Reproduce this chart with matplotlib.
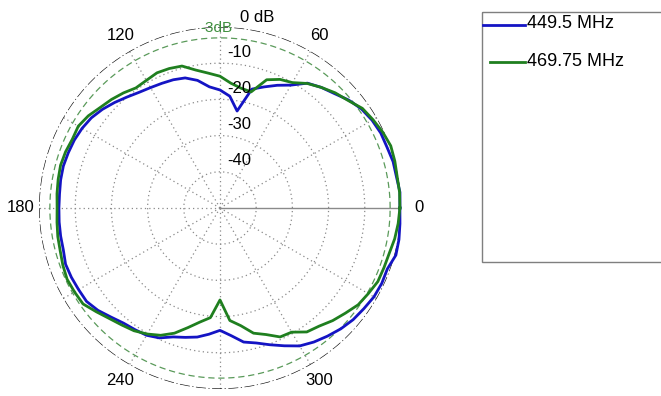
import numpy as np
import matplotlib

matplotlib.use("Agg")
import matplotlib.pyplot as plt
from matplotlib.patches import Rectangle
from matplotlib.transforms import offset_copy

# measured gain pattern (dB, normalised), every 5 degrees starting at 0
angles_deg = np.arange(0, 360, 5)
gain_449 = [
    -0.3, -0.1, -0.5, -0.5, -0.9, -1.0, -1.5, -2.3, -3.6, -5.3,
    -6.5, -7.9, -10.8, -12.6, -14.4, -16.0, -22.8, -19.0, -17.4, -16.4,
    -14.2, -12.8, -12.3, -12.0, -11.6, -11.0, -10.0, -8.8, -7.6, -6.6,
    -6.0, -5.6, -5.4, -5.2, -5.3, -5.5, -5.5, -5.4, -5.3, -5.2,
    -4.6, -4.7, -4.9, -5.0, -6.0, -7.4, -8.5, -9.0, -9.4, -10.4,
    -12.1, -13.0, -13.8, -15.0, -16.2, -14.6, -12.4, -11.4, -9.8, -8.0,
    -6.0, -4.8, -3.8, -2.8, -2.0, -1.5, -0.9, -0.7, -0.8, 0.3,
    0.2, -0.1,
]
gain_469 = [
    -0.3, -0.2, -0.3, 0.0, 0.2, -0.4, -1.2, -2.0, -3.8, -5.0,
    -6.5, -8.0, -10.0, -10.8, -12.3, -16.8, -16.4, -15.4, -13.6, -12.6,
    -11.3, -9.4, -9.0, -8.8, -9.3, -9.5, -8.5, -7.6, -6.8, -5.6,
    -4.8, -5.0, -4.6, -4.4, -4.6, -4.8, -5.0, -4.8, -4.5, -4.3,
    -3.8, -3.4, -3.6, -3.8, -5.4, -6.8, -7.8, -8.6, -9.8, -11.2,
    -13.2, -15.8, -18.0, -19.6, -24.6, -18.8, -17.0, -14.2, -12.8, -10.7,
    -10.4, -8.2, -7.4, -6.0, -4.8, -3.4, -2.7, -1.9, -1.8, -1.6,
    -1.0, -0.6,
]
series_labels = ["449.5 MHz", "469.75 MHz"]
series_colors = ["#1414c4", "#1f7f1f"]

r_min, r_max = -50, 0
ring_values = [-10, -20, -30, -40]
spoke_angles = np.arange(30, 360, 30)
angle_labels = [0, 60, 120, 180, 240, 300]

W, H = 661, 396
fig = plt.figure(figsize=(W / 100, H / 100), dpi=100)
ax = fig.add_axes([39 / W, 7 / H, 362 / W, 362 / H], projection="polar")
ax.set_ylim(r_min, r_max)
ax.grid(False)
ax.set_xticks([])
ax.set_yticks([])
ax.spines["polar"].set_visible(False)
ax.patch.set_visible(False)

full = np.linspace(0, 2 * np.pi, 721)
grid_c = "#8a8a8a"
for v in ring_values:
    ax.plot(full, np.full_like(full, v), color=grid_c, lw=0.9, ls=(0, (1, 2.5)))
for a in spoke_angles:
    t = np.deg2rad(a)
    ax.plot([t, t], [r_min, r_max], color=grid_c, lw=0.9, ls=(0, (1, 2.5)))
ax.plot([0, 0], [r_min, r_max], color="#8a8a8a", lw=1.0)
ax.plot(full, np.full_like(full, r_max), color="#111111", lw=0.9, ls=(0, (8, 2, 1, 2)))
ax.plot(full, np.full_like(full, r_max - 3), color="#5a9a5a", lw=0.9, ls=(0, (5, 3)))

th = np.deg2rad(np.r_[angles_deg, 360])
for vals, col, lab in zip([gain_449, gain_469], series_colors, series_labels):
    ax.plot(th, np.r_[vals, vals[0]], color=col, lw=2.0, label=lab, clip_on=False)

for a in angle_labels:
    ax.text(np.deg2rad(a), r_max + 5.0, str(a), ha="center", va="center",
            fontsize=12, family="Liberation Sans")

for v in ring_values:
    tr = offset_copy(ax.transData, fig=fig, x=7, y=11, units="dots")
    ax.text(np.pi / 2, v, str(v), transform=tr, ha="left", va="center",
            fontsize=12, family="Liberation Sans")
tr = offset_copy(ax.transData, fig=fig, x=20, y=10, units="dots")
ax.text(np.pi / 2, r_max, "0 dB", transform=tr, ha="left", va="center",
        fontsize=12, family="Liberation Sans")
tr = offset_copy(ax.transData, fig=fig, x=-4, y=10, units="dots")
ax.text(np.pi / 2, r_max - 3, "-3dB", transform=tr, ha="center", va="center",
        fontsize=11, color="#3f8f3f", family="Liberation Sans")

# legend box (right edge runs off the figure, as in the source)
lax = fig.add_axes([0, 0, 1, 1], zorder=-1)
lax.set_xlim(0, W)
lax.set_ylim(H, 0)
lax.axis("off")
lax.add_patch(Rectangle((482, 12), 300, 250, fill=False, ec="#7f7f7f", lw=1.0))
for (x0, y0), col, lab in zip([(483, 25), (490, 62)], series_colors, series_labels):
    lax.plot([x0, 525], [y0, y0], color=col, lw=2.0)
    lax.text(527, y0 - 1, lab, ha="left", va="center", fontsize=13,
             family="Liberation Sans")

fig.savefig("out.png", dpi=100)
